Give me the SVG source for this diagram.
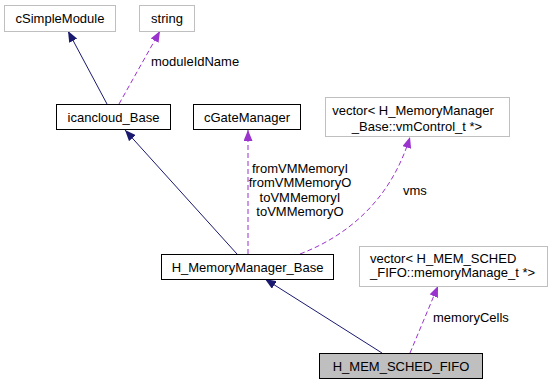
<svg xmlns="http://www.w3.org/2000/svg" width="553" height="384" viewBox="0 0 553 384">
  <style>
    text { font-family: "Liberation Sans", Arial, sans-serif; font-size: 13px; fill: #000; }
    .box { fill: #fff; stroke: #000; stroke-width: 1; }
    .ext { fill: #fff; stroke: #bfbfbf; stroke-width: 1; }
    .cur { fill: #bfbfbf; stroke: #000; stroke-width: 1; }
    .inh { fill: none; stroke: #191970; stroke-width: 1; }
    .use { fill: none; stroke: #9a32cd; stroke-width: 1; stroke-dasharray: 5,3; }
    .mid { text-anchor: middle; }
  </style>
  <defs>
    <marker id="arrInh" viewBox="0 0 11 9" refX="11" refY="4.5" markerWidth="11" markerHeight="9" markerUnits="userSpaceOnUse" orient="auto">
      <path d="M0,0 L11,4.5 L0,9 z" fill="#191970"/>
    </marker>
    <marker id="arrUse" viewBox="0 0 11 9" refX="11" refY="4.5" markerWidth="11" markerHeight="9" markerUnits="userSpaceOnUse" orient="auto">
      <path d="M0,0 L11,4.5 L0,9 z" fill="#9a32cd"/>
    </marker>
  </defs>

  <g id="edges">
    <path class="inh" d="M107,104 L68,31" marker-end="url(#arrInh)"/>
    <path class="use" d="M119,104 L160,31" marker-end="url(#arrUse)"/>
    <path class="inh" d="M237,254 L125,130" marker-end="url(#arrInh)"/>
    <path class="use" d="M248,254 L248,130" marker-end="url(#arrUse)"/>
    <path class="use" d="M300,254 C352,234 392,196 410,137" marker-end="url(#arrUse)"/>
    <path class="inh" d="M382,353 L265,279" marker-end="url(#arrInh)"/>
    <path class="use" d="M410,353 L438,286" marker-end="url(#arrUse)"/>
    <text x="151" y="66">moduleIdName</text>
    <text class="mid" x="300" y="172.5">fromVMMemoryI</text>
    <text class="mid" x="300" y="187">fromVMMemoryO</text>
    <text class="mid" x="300" y="201.5">toVMMemoryI</text>
    <text class="mid" x="300" y="216">toVMMemoryO</text>
    <text x="403" y="195">vms</text>
    <text x="433" y="322">memoryCells</text>
  </g>

  <g id="node-cSimpleModule">
    <rect class="ext" x="4.5" y="5.5" width="111" height="26"/>
    <text class="mid" x="60" y="23">cSimpleModule</text>
  </g>
  <g id="node-string">
    <rect class="ext" x="139.5" y="5.5" width="55" height="26"/>
    <text class="mid" x="167" y="23">string</text>
  </g>
  <g id="node-icancloud_Base">
    <rect class="box" x="56.5" y="104.5" width="114" height="25"/>
    <text class="mid" x="113.5" y="121.5">icancloud_Base</text>
  </g>
  <g id="node-cGateManager">
    <rect class="box" x="193.5" y="104.5" width="107" height="25"/>
    <text class="mid" x="247" y="121.5">cGateManager</text>
  </g>
  <g id="node-vector-vmControl">
    <rect class="ext" x="325.5" y="97.5" width="184" height="39"/>
    <text class="mid" x="413" y="114.5">vector&lt; H_MemoryManager</text>
    <text class="mid" x="417" y="131">_Base::vmControl_t *&gt;</text>
  </g>
  <g id="node-H_MemoryManager_Base">
    <rect class="box" x="161.5" y="254.5" width="172" height="25"/>
    <text class="mid" x="247.5" y="271.5">H_MemoryManager_Base</text>
  </g>
  <g id="node-vector-memoryManage">
    <rect class="ext" x="359.5" y="246.5" width="188" height="40"/>
    <text x="370" y="262.5">vector&lt; H_MEM_SCHED</text>
    <text x="370" y="277">_FIFO::memoryManage_t *&gt;</text>
  </g>
  <g id="node-H_MEM_SCHED_FIFO">
    <rect class="cur" x="319.5" y="353.5" width="163" height="25"/>
    <text class="mid" x="401" y="370.5">H_MEM_SCHED_FIFO</text>
  </g>
</svg>
